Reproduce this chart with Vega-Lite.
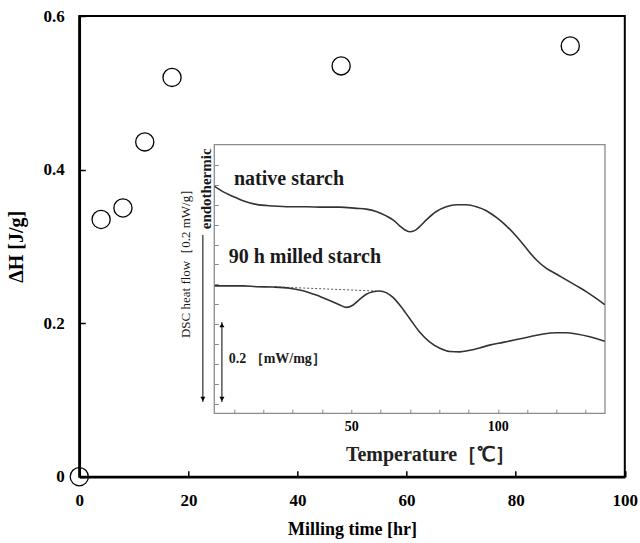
{
  "$schema": "https://vega.github.io/schema/vega-lite/v6.json",
  "autosize": "none",
  "width": 545.5,
  "height": 460.7,
  "padding": {"left": 79.3, "top": 16, "right": 15.2, "bottom": 66.3},
  "background": "white",
  "view": {"stroke": "black", "strokeWidth": 2},
  "config": {"view": {"stroke": "black", "strokeWidth": 2}, "font": "Liberation Serif"},
  "resolve": {
    "scale": {"x": "independent", "y": "independent"},
    "axis": {"x": "independent", "y": "independent"}
  },
  "layer": [
    {
      "data": {"values": [
        {"t": 0, "dh": 0},
        {"t": 4, "dh": 0.335},
        {"t": 8, "dh": 0.35},
        {"t": 12, "dh": 0.436},
        {"t": 17, "dh": 0.52},
        {"t": 48, "dh": 0.535},
        {"t": 90, "dh": 0.561}
      ]},
      "mark": {"type": "point", "shape": "circle", "filled": false, "stroke": "black", "strokeWidth": 1.3, "size": 330, "opacity": 1},
      "encoding": {
        "x": {
          "field": "t", "type": "quantitative",
          "scale": {"domain": [0, 100], "nice": false},
          "axis": {
            "title": "Milling time [hr]", "values": [0, 20, 40, 60, 80, 100],
            "tickSize": -6, "tickColor": "black", "tickWidth": 1.5,
            "domainColor": "black", "domainWidth": 2.5, "grid": false,
            "labelFont": "Liberation Serif", "labelFontWeight": "bold", "labelFontSize": 17, "labelColor": "black",
            "labelPadding": 22, "labelFlush": false, "labelOverlap": false,
            "titleFont": "Liberation Serif", "titleFontSize": 18, "titleFontWeight": "bold", "titleColor": "black", "titlePadding": 12
          }
        },
        "y": {
          "field": "dh", "type": "quantitative",
          "scale": {"domain": [0, 0.6], "nice": false},
          "axis": {
            "title": "ΔH [J/g]", "values": [0, 0.2, 0.4, 0.6], "format": ".1~f",
            "tickSize": -6, "tickColor": "black", "tickWidth": 1.5,
            "domainColor": "black", "domainWidth": 2.5, "grid": false,
            "labelFont": "Liberation Serif", "labelFontWeight": "bold", "labelFontSize": 17, "labelColor": "black",
            "labelPadding": 21, "labelFlush": false, "labelOverlap": false,
            "titleFont": "Liberation Serif", "titleFontSize": 20, "titleFontWeight": "bold", "titleColor": "black", "titlePadding": 17
          }
        }
      }
    },
    {
      "encoding": {
        "x": {
          "field": "T", "type": "quantitative",
          "scale": {"domain": [3.2, 136.6], "range": [135, 525.7], "nice": false, "zero": false},
          "axis": {
            "orient": "bottom", "offset": -63.4,
            "values": [10, 20, 30, 40, 50, 60, 70, 80, 90, 100, 110, 120, 130],
            "labelExpr": "datum.value == 50 || datum.value == 100 ? datum.label : ''",
            "tickSize": -4, "tickColor": "#888888", "tickWidth": 1, "domain": false, "grid": false,
            "labelFont": "Liberation Serif", "labelFontWeight": "bold", "labelFontSize": 14, "labelColor": "black",
            "labelPadding": 10, "labelFlush": false, "labelOverlap": false,
            "title": "Temperature［℃］", "titleFont": "Liberation Serif", "titleFontSize": 20, "titleFontWeight": "bold",
            "titleColor": "#222222", "titlePadding": 11, "titleX": 350.7
          }
        },
        "y": {
          "field": "v", "type": "quantitative",
          "scale": {"domain": [-0.0244, 0.651], "range": [397.3, 128.7], "nice": false, "zero": false},
          "axis": {
            "orient": "left", "offset": -135,
            "values": [0, 0.05, 0.1, 0.15, 0.2, 0.25, 0.3, 0.35, 0.4, 0.45, 0.5, 0.55, 0.6],
            "tickSize": -4, "tickColor": "#888888", "tickWidth": 1, "domain": false, "grid": false,
            "labels": false, "title": null
          }
        }
      },
      "layer": [
        {
          "data": {"values": [{"T": 3.2, "T2": 136.6, "v": -0.0244, "v2": 0.651}]},
          "mark": {"type": "rect", "fill": null, "fillOpacity": 0, "stroke": "#8c8c8c", "strokeWidth": 1.3},
          "encoding": {"x2": {"field": "T2"}, "y2": {"field": "v2"}}
        },
        {
          "data": {"values": [
            {"s": "baseline", "T": 24, "v": 0.2935},
            {"s": "baseline", "T": 58.5, "v": 0.283}
          ]},
          "mark": {"type": "line", "stroke": "#555555", "strokeWidth": 1, "strokeDash": [2, 2]},
          "encoding": {"detail": {"field": "s"}}
        },
        {
          "data": {"values": [
            {"s": "native", "T": 3.3, "v": 0.546}, {"s": "native", "T": 6.1, "v": 0.533}, {"s": "native", "T": 9.6, "v": 0.521},
            {"s": "native", "T": 13.0, "v": 0.51}, {"s": "native", "T": 17.5, "v": 0.501}, {"s": "native", "T": 23.2, "v": 0.497},
            {"s": "native", "T": 28.9, "v": 0.495}, {"s": "native", "T": 34.6, "v": 0.495}, {"s": "native", "T": 40.3, "v": 0.494},
            {"s": "native", "T": 46.0, "v": 0.494}, {"s": "native", "T": 51.7, "v": 0.491}, {"s": "native", "T": 55.1, "v": 0.489},
            {"s": "native", "T": 58.5, "v": 0.483}, {"s": "native", "T": 61.9, "v": 0.472}, {"s": "native", "T": 64.2, "v": 0.462},
            {"s": "native", "T": 66.5, "v": 0.447}, {"s": "native", "T": 68.2, "v": 0.437}, {"s": "native", "T": 69.9, "v": 0.432},
            {"s": "native", "T": 71.6, "v": 0.435}, {"s": "native", "T": 73.3, "v": 0.445}, {"s": "native", "T": 75.6, "v": 0.462},
            {"s": "native", "T": 79.0, "v": 0.483}, {"s": "native", "T": 82.4, "v": 0.495}, {"s": "native", "T": 85.9, "v": 0.5},
            {"s": "native", "T": 89.3, "v": 0.5}, {"s": "native", "T": 92.7, "v": 0.495}, {"s": "native", "T": 96.1, "v": 0.485},
            {"s": "native", "T": 99.5, "v": 0.468}, {"s": "native", "T": 102.9, "v": 0.447}, {"s": "native", "T": 106.4, "v": 0.42},
            {"s": "native", "T": 109.8, "v": 0.39}, {"s": "native", "T": 113.2, "v": 0.361}, {"s": "native", "T": 116.6, "v": 0.34},
            {"s": "native", "T": 120.0, "v": 0.326}, {"s": "native", "T": 123.4, "v": 0.311}, {"s": "native", "T": 126.9, "v": 0.296},
            {"s": "native", "T": 130.3, "v": 0.281}, {"s": "native", "T": 133.7, "v": 0.264}, {"s": "native", "T": 136.5, "v": 0.249},
            {"s": "milled", "T": 3.3, "v": 0.296}, {"s": "milled", "T": 8.4, "v": 0.296}, {"s": "milled", "T": 13.0, "v": 0.296},
            {"s": "milled", "T": 17.5, "v": 0.294}, {"s": "milled", "T": 23.2, "v": 0.293}, {"s": "milled", "T": 28.9, "v": 0.29},
            {"s": "milled", "T": 33.5, "v": 0.284}, {"s": "milled", "T": 38.0, "v": 0.273}, {"s": "milled", "T": 42.6, "v": 0.259},
            {"s": "milled", "T": 46.0, "v": 0.248}, {"s": "milled", "T": 48.3, "v": 0.242}, {"s": "milled", "T": 50.6, "v": 0.248},
            {"s": "milled", "T": 52.8, "v": 0.262}, {"s": "milled", "T": 55.1, "v": 0.275}, {"s": "milled", "T": 57.4, "v": 0.281},
            {"s": "milled", "T": 59.7, "v": 0.283}, {"s": "milled", "T": 61.9, "v": 0.279}, {"s": "milled", "T": 64.2, "v": 0.267},
            {"s": "milled", "T": 66.5, "v": 0.248}, {"s": "milled", "T": 69.9, "v": 0.214}, {"s": "milled", "T": 73.3, "v": 0.18},
            {"s": "milled", "T": 76.7, "v": 0.155}, {"s": "milled", "T": 80.2, "v": 0.139}, {"s": "milled", "T": 83.6, "v": 0.131},
            {"s": "milled", "T": 87.0, "v": 0.13}, {"s": "milled", "T": 90.4, "v": 0.134}, {"s": "milled", "T": 93.8, "v": 0.14},
            {"s": "milled", "T": 97.2, "v": 0.147}, {"s": "milled", "T": 101.8, "v": 0.154}, {"s": "milled", "T": 106.4, "v": 0.161},
            {"s": "milled", "T": 110.9, "v": 0.168}, {"s": "milled", "T": 115.5, "v": 0.175}, {"s": "milled", "T": 120.0, "v": 0.178},
            {"s": "milled", "T": 123.4, "v": 0.178}, {"s": "milled", "T": 126.9, "v": 0.175}, {"s": "milled", "T": 131.4, "v": 0.168},
            {"s": "milled", "T": 136.5, "v": 0.157}
          ]},
          "mark": {"type": "line", "stroke": "#333333", "strokeWidth": 1.6, "interpolate": "monotone"},
          "encoding": {"detail": {"field": "s"}}
        },
        {
          "data": {"values": [
            {"label": "native starch", "T": 9.9, "v": 0.564},
            {"label": "90 h milled starch", "T": 8.1, "v": 0.369}
          ]},
          "mark": {"type": "text", "align": "left", "baseline": "middle", "font": "Liberation Serif", "fontSize": 20, "fontWeight": "bold", "color": "#1a1a1a"},
          "encoding": {"text": {"field": "label"}}
        },
        {
          "data": {"values": [{"label": "0.2 ［mW/mg］", "T": 8.1, "v": 0.112}]},
          "mark": {"type": "text", "align": "left", "baseline": "middle", "font": "Liberation Serif", "fontSize": 14, "fontWeight": "bold", "color": "#1a1a1a"},
          "encoding": {"text": {"field": "label"}}
        },
        {
          "data": {"values": [{"label": "DSC heat flow［0.2 mW/g］", "T": -6.6, "v": 0.36}]},
          "mark": {"type": "text", "align": "center", "baseline": "middle", "angle": 270, "font": "Liberation Serif", "fontSize": 13, "color": "#1a1a1a"},
          "encoding": {"text": {"field": "label"}}
        },
        {
          "data": {"values": [{"label": "endothermic", "T": 0.2, "v": 0.54}]},
          "mark": {"type": "text", "align": "center", "baseline": "middle", "angle": 270, "font": "Liberation Serif", "fontSize": 15, "fontWeight": "bold", "color": "#1a1a1a"},
          "encoding": {"text": {"field": "label"}}
        },
        {
          "data": {"values": [
            {"T": 5.8, "v": 0.004, "v2": 0.205},
            {"T": -0.7, "v": 0.004, "v2": 0.424}
          ]},
          "mark": {"type": "rule", "color": "black", "strokeWidth": 1},
          "encoding": {"y2": {"field": "v2"}}
        },
        {
          "data": {"values": [{"T": 5.8, "v": 0.004}, {"T": -0.7, "v": 0.004}]},
          "mark": {"type": "point", "shape": "triangle-down", "filled": true, "color": "black", "size": 25, "yOffset": -3, "opacity": 1},
          "encoding": {}
        },
        {
          "data": {"values": [{"T": 5.8, "v": 0.205}]},
          "mark": {"type": "point", "shape": "triangle-up", "filled": true, "color": "black", "size": 25, "yOffset": 3, "opacity": 1},
          "encoding": {}
        }
      ]
    }
  ]
}
